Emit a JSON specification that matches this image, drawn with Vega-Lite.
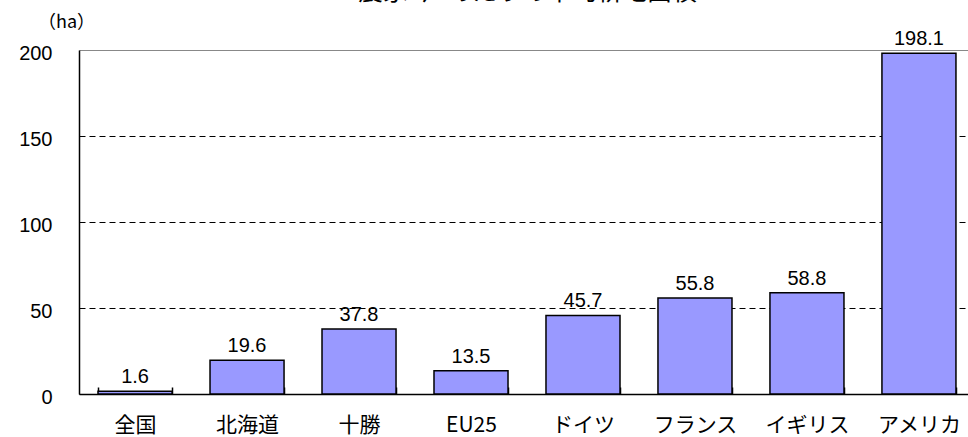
{
  "$schema": "https://vega.github.io/schema/vega-lite/v6.json",
  "autosize": {"type": "none"},
  "width": 889,
  "height": 344,
  "padding": {"left": 79, "top": 50, "right": 0, "bottom": 43},
  "background": "white",
  "title": {
    "text": "農家1戸あたりの平均耕地面積",
    "font": "Noto Sans CJK JP",
    "fontSize": 25,
    "fontWeight": "normal",
    "color": "black",
    "baseline": "bottom",
    "frame": "group",
    "offset": 5,
    "dy": 22,
    "anchor": "middle",
    "dx": 4
  },
  "data": {
    "values": [
      {"region": "全国", "area": 1.6},
      {"region": "北海道", "area": 19.6},
      {"region": "十勝", "area": 37.8},
      {"region": "EU25", "area": 13.5},
      {"region": "ドイツ", "area": 45.7},
      {"region": "フランス", "area": 55.8},
      {"region": "イギリス", "area": 58.8},
      {"region": "アメリカ", "area": 198.1}
    ]
  },
  "encoding": {
    "x": {
      "field": "region",
      "type": "nominal",
      "sort": null,
      "scale": {"range": [0, 896], "paddingInner": 0.339, "paddingOuter": 0.17},
      "axis": {
        "title": null,
        "labelAngle": 0,
        "labelFont": "Noto Sans CJK JP",
        "labelFontSize": 21,
        "labelColor": "black",
        "labelPadding": 27,
        "domainColor": "black",
        "domainWidth": 1.5,
        "tickBand": "extent",
        "tickColor": "black",
        "tickWidth": 1.5,
        "tickSize": -7,
        "grid": false
      }
    },
    "y": {
      "field": "area",
      "type": "quantitative",
      "scale": {"domain": [0, 200], "nice": false},
      "axis": {
        "values": [0, 50, 100, 150, 200],
        "title": "（ha）",
        "titleAngle": 0,
        "titleX": -13,
        "titleY": -28,
        "titleAlign": "center",
        "titleBaseline": "middle",
        "titleFont": "Noto Sans CJK JP",
        "titleFontSize": 18,
        "titleFontWeight": "normal",
        "titleColor": "black",
        "labelFont": "Liberation Sans",
        "labelFontSize": 20,
        "labelColor": "black",
        "labelPadding": 27,
        "labelOffset": 3,
        "ticks": false,
        "domainColor": "black",
        "domainWidth": 1.5,
        "grid": true,
        "gridColor": {"condition": {"test": "datum.value === 200", "value": "#888888"}, "value": "black"},
        "gridDash": {"condition": {"test": "datum.value === 200", "value": []}, "value": [6, 4]},
        "gridWidth": 1
      }
    }
  },
  "layer": [
    {
      "mark": {"type": "bar", "fill": "#9999FF", "stroke": "black", "strokeWidth": 1.5}
    },
    {
      "mark": {"type": "text", "baseline": "alphabetic", "dy": -8, "font": "Liberation Sans", "fontSize": 20, "color": "black"},
      "encoding": {"text": {"field": "area", "type": "quantitative", "format": ".1f"}}
    }
  ],
  "config": {"view": {"stroke": null}}
}
